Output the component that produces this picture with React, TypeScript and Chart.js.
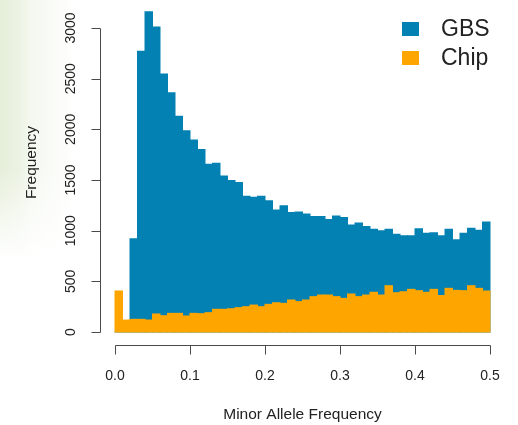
import React, { useEffect, useRef } from "react";
import { Chart, registerables } from "chart.js";

Chart.register(...registerables);

// ---- data ----
const binStarts = [
  0.0, 0.01, 0.02, 0.03, 0.04, 0.05, 0.06, 0.07, 0.08, 0.09,
  0.1, 0.11, 0.12, 0.13, 0.14, 0.15, 0.16, 0.17, 0.18, 0.19,
  0.2, 0.21, 0.22, 0.23, 0.24, 0.25, 0.26, 0.27, 0.28, 0.29,
  0.3, 0.31, 0.32, 0.33, 0.34, 0.35, 0.36, 0.37, 0.38, 0.39,
  0.4, 0.41, 0.42, 0.43, 0.44, 0.45, 0.46, 0.47, 0.48, 0.49,
];
const binWidth = 0.01;

const gbsCounts = [
  0, 0, 920, 2770, 3160, 3010, 2545, 2360, 2130, 1985,
  1895, 1800, 1655, 1665, 1540, 1495, 1475, 1340, 1330, 1340,
  1295, 1205, 1245, 1180, 1185, 1165, 1140, 1140, 1110, 1145,
  1130, 1055, 1075, 1040, 1015, 1000, 1015, 965, 950, 950,
  1020, 975, 980, 950, 1015, 910, 975, 1025, 1005, 1085,
];

const chipCounts = [
  405, 118, 125, 125, 118, 178, 161, 184, 184, 158,
  184, 181, 191, 224, 224, 230, 240, 250, 266, 250,
  273, 289, 283, 316, 300, 316, 349, 365, 365, 349,
  332, 375, 349, 365, 392, 365, 457, 388, 398, 421,
  408, 392, 421, 360, 431, 411, 408, 457, 431, 405,
];

const xTicks = [0, 0.1, 0.2, 0.3, 0.4, 0.5];
const yTicks = [0, 500, 1000, 1500, 2000, 2500, 3000];
const seriesNames = ["GBS", "Chip"];
const seriesColors = ["#0381b3", "#ffa500"];
const xTitle = "Minor Allele Frequency";
const yTitle = "Frequency";

// ---- layout ----
const W = 518;
const H = 425;
const SHIFT = 20; // canvas is shifted up so the plot region extends above the page
const FONT = '"Liberation Sans", Arial, Helvetica, sans-serif';
const TEXT = "#222222";
const AXIS = "#4a4a4a";

const rAxesPlugin = {
  id: "rAxes",
  afterDraw(chart: any) {
    const { ctx, chartArea } = chart;
    const xs = chart.scales.x;
    const ys = chart.scales.y;
    ctx.save();
    ctx.strokeStyle = AXIS;
    ctx.lineWidth = 1;

    // x axis line + ticks
    const axY = Math.round(chartArea.bottom) + 0.5;
    const xa = xs.getPixelForValue(xTicks[0]);
    const xb = xs.getPixelForValue(xTicks[xTicks.length - 1]);
    ctx.beginPath();
    ctx.moveTo(Math.round(xa) + 0.5, axY);
    ctx.lineTo(Math.round(xb) + 0.5, axY);
    xTicks.forEach((v) => {
      const px = Math.round(xs.getPixelForValue(v)) + 0.5;
      ctx.moveTo(px, axY);
      ctx.lineTo(px, axY + 9);
    });
    ctx.stroke();

    // y axis line + ticks
    const axX = Math.round(chartArea.left) + 0.5;
    const ya = ys.getPixelForValue(yTicks[0]);
    const yb = ys.getPixelForValue(yTicks[yTicks.length - 1]);
    ctx.beginPath();
    ctx.moveTo(axX, Math.round(ya) + 0.5);
    ctx.lineTo(axX, Math.round(yb) + 0.5);
    yTicks.forEach((v) => {
      const py = Math.round(ys.getPixelForValue(v)) + 0.5;
      ctx.moveTo(axX, py);
      ctx.lineTo(axX - 9, py);
    });
    ctx.stroke();

    // y tick labels (rotated, R style)
    ctx.fillStyle = TEXT;
    ctx.font = `14px ${FONT}`;
    ctx.textAlign = "center";
    ctx.textBaseline = "middle";
    yTicks.forEach((v) => {
      const py = ys.getPixelForValue(v);
      ctx.save();
      ctx.translate(71, py);
      ctx.rotate(-Math.PI / 2);
      ctx.fillText(String(v), 0, 0);
      ctx.restore();
    });

    // legend
    ctx.font = `23px ${FONT}`;
    ctx.textAlign = "left";
    ctx.textBaseline = "middle";
    chart.data.datasets.forEach((ds: any, i: number) => {
      const cy = 29 + SHIFT + i * 29;
      ctx.fillStyle = ds.backgroundColor;
      ctx.fillRect(402, cy - 7, 17, 14);
      ctx.fillStyle = TEXT;
      ctx.fillText(ds.label, 441, cy + 1);
    });
    ctx.restore();
  },
};

export default function App() {
  const canvasRef = useRef<HTMLCanvasElement | null>(null);

  useEffect(() => {
    const canvas = canvasRef.current;
    if (!canvas) return;
    const makeData = (counts: number[]) =>
      binStarts.map((s, i) => ({ x: s + binWidth / 2, y: counts[i] }));

    const chart = new Chart(canvas, {
      type: "bar",
      data: {
        datasets: [
          {
            label: seriesNames[0],
            data: makeData(gbsCounts),
            backgroundColor: seriesColors[0],
            borderWidth: 0,
            order: 2,
          },
          {
            label: seriesNames[1],
            data: makeData(chipCounts),
            backgroundColor: seriesColors[1],
            borderWidth: 0,
            order: 1,
          },
        ],
      } as any,
      options: {
        responsive: false,
        animation: false,
        devicePixelRatio: 1,
        layout: { padding: { left: 0, right: 13, top: 0, bottom: 0 } },
        datasets: {
          bar: {
            grouped: false,
            barPercentage: 1,
            categoryPercentage: 1,
            inflateAmount: 0.5,
          },
        } as any,
        plugins: {
          legend: { display: false },
          tooltip: { enabled: false },
          title: { display: false },
        },
        scales: {
          x: {
            type: "linear",
            offset: false,
            min: -0.02,
            max: 0.52,
            grid: { display: false, drawTicks: false, offset: false },
            border: { display: false },
            afterBuildTicks: (axis: any) => {
              axis.ticks = xTicks.map((v) => ({ value: v }));
            },
            afterFit: (scale: any) => {
              scale.height = H + SHIFT - (345 + SHIFT);
              scale.paddingLeft = 0;
              scale.paddingRight = 0;
            },
            ticks: {
              color: TEXT,
              font: { size: 14, family: FONT },
              padding: 23,
              maxRotation: 0,
              minRotation: 0,
              autoSkip: false,
              callback: (v: any) => Number(v).toFixed(1),
            },
            title: {
              display: true,
              text: xTitle,
              color: TEXT,
              font: { size: 15.5, family: FONT },
              padding: { top: 0, bottom: 1 },
            },
          },
          y: {
            type: "linear",
            min: -128.3,
            max: 3473.7,
            grid: { display: false, drawTicks: false },
            border: { display: false },
            afterBuildTicks: (axis: any) => {
              axis.ticks = yTicks.map((v) => ({ value: v }));
            },
            afterFit: (scale: any) => {
              scale.width = 100;
              scale.paddingTop = 0;
              scale.paddingBottom = 0;
            },
            ticks: { display: false },
            title: {
              display: true,
              text: yTitle,
              color: TEXT,
              font: { size: 15.5, family: FONT },
              padding: { top: 22.7, bottom: 0 },
            },
          },
        },
      } as any,
      plugins: [rAxesPlugin],
    });
    return () => chart.destroy();
  }, []);

  return (
    <div
      style={{
        position: "fixed",
        left: 0,
        top: 0,
        width: W,
        height: H,
        overflow: "hidden",
        background: "#ffffff",
      }}
    >
      <div
        style={{
          position: "absolute",
          left: 0,
          top: 0,
          width: 75,
          height: 260,
          background:
            "linear-gradient(to right, #e6efd9 0px, #ebf2e2 18px, #f4f8ef 30px, rgba(255,255,255,0) 75px)",
          WebkitMaskImage: "linear-gradient(to bottom, #000 0%, #000 65%, transparent 100%)",
          maskImage: "linear-gradient(to bottom, #000 0%, #000 65%, transparent 100%)",
        }}
      />
      <canvas
        ref={canvasRef}
        width={W}
        height={H + SHIFT}
        style={{
          position: "absolute",
          left: 0,
          top: -SHIFT,
          width: W,
          height: H + SHIFT,
          display: "block",
        }}
      />
    </div>
  );
}
